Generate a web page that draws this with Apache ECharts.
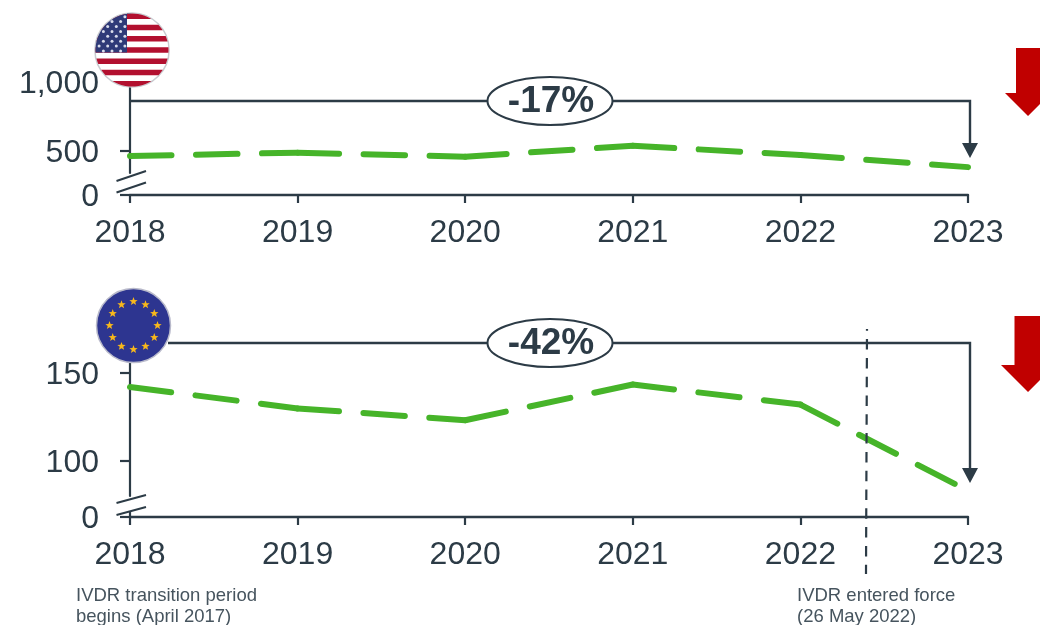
<!DOCTYPE html>
<html><head><meta charset="utf-8">
<style>html,body{margin:0;padding:0;background:#fff}#c{width:1040px;height:625px}</style>
<script src="https://cdn.jsdelivr.net/npm/echarts@6/dist/echarts.min.js"></script>
</head><body><div id="c"></div>
<script>
const years = ['2018','2019','2020','2021','2022','2023'];
const usValues = [464,488,459,538,471,383];
const euValues = [142,129.8,123.1,143.4,132,83];
const usTicks = [0,500,1000];
const euTicks = [0,100,150];
const INK = '#2C3B46', GREEN = '#46B429', RED = '#C00000';
const FONT = '"Liberation Sans", Arial, sans-serif';

const chart = echarts.init(document.getElementById('c'), null, {renderer:'canvas'});

function xAxis(i){ return {
  gridIndex:i, type:'category', data:years, boundaryGap:false,
  axisLine:{onZero:false, lineStyle:{color:INK,width:2.4}},
  axisTick:{alignWithLabel:true,length:8,lineStyle:{color:INK,width:2.2}},
  axisLabel:{color:INK,fontSize:32,fontFamily:FONT,margin:22,interval:0,hideOverlap:false,showMinLabel:true,showMaxLabel:true},
  splitLine:{show:false}
};}
function yAxis(i,max,ticks,brk,fmt){ return {
  gridIndex:i, type:'value', min:0, max,
  breaks:[brk],
  breakArea:{show:false},
  axisLine:{show:true,lineStyle:{color:INK,width:2.2}},
  axisTick:{show:true,length:10,customValues:ticks,lineStyle:{color:INK,width:2.2}},
  axisLabel:{color:INK,fontSize:32,fontFamily:FONT,margin:31,hideOverlap:false,customValues:ticks,formatter:fmt,verticalAlign:'top',lineHeight:5},
  splitLine:{show:false}
};}
const lineStyle={color:GREEN,width:6,type:[41.5,24.5],cap:'round',join:'round'};

/* the reference restarts its dash pattern at each year, so each year-to-year span is its own series */
function spans(name,values,axis){
  return values.slice(0,-1).map((_,i)=>({
    name:name+' '+years[i], type:'line', xAxisIndex:axis, yAxisIndex:axis, symbol:'none', lineStyle, z:5,
    data:values.map((v,j)=>(j===i||j===i+1)?v:null)
  }));
}

/* ---------- flags and annotation helpers ---------- */
function region(cx,cy,r,x0,x1,y0,y1){
  const L=[],R=[]; const st=0.5;
  for(let y=Math.max(y0,cy-r);y<=Math.min(y1,cy+r)+1e-6;y+=st){
    const d=Math.sqrt(Math.max(0,r*r-(y-cy)*(y-cy)));
    L.push([Math.max(cx-d,x0),y]); R.push([Math.min(cx+d,x1),y]);
  }
  return L.concat(R.reverse());
}
const poly=(points,fill,z=20)=>({type:'polygon',z,silent:true,shape:{points},style:{fill}});
function star(cx,cy,R,fill){
  const p=[]; for(let i=0;i<10;i++){const a=-Math.PI/2+i*Math.PI/5,r=i%2?R*0.42:R;p.push([cx+r*Math.cos(a),cy+r*Math.sin(a)]);}
  return poly(p,fill,23);
}
function usFlag(cx,cy,r){
  const o=[{type:'circle',z:19,silent:true,shape:{cx,cy,r:r+0.6},style:{fill:'#fff',stroke:'#C9CBD0',lineWidth:1.5}}];
  const top=cy-r,h=2*r/13;
  for(let i=0;i<13;i+=2) o.push(poly(region(cx,cy,r,-1e4,1e4,top+i*h,top+(i+1)*h),'#B2102F'));
  o.push(poly(region(cx,cy,r,-1e4,cx-5,top,top+7*h),'#2F3A78',21));
  for(let row=0;row<8;row++){
    const n=row%2?4:5;
    for(let k=0;k<n;k++){
      const sx=cx-r+3.6+(row%2?4.3:0)+k*8.6, sy=top+3.2+row*4.9;
      if((sx-cx)**2+(sy-cy)**2<(r-1.5)*(r-1.5)&&sx<cx-5.5)
        o.push({type:'circle',z:22,silent:true,shape:{cx:sx,cy:sy,r:1.5},style:{fill:'#D9DCEB'}});
    }
  }
  return o;
}
function euFlag(cx,cy,r){
  const o=[{type:'circle',z:20,silent:true,shape:{cx,cy,r},style:{fill:'#2D3590',stroke:'#B9BACB',lineWidth:1.5}}];
  for(let i=0;i<12;i++){const a=i*Math.PI/6;o.push(star(cx+24*Math.sin(a),cy-24*Math.cos(a),4.4,'#F8B81B'));}
  return o;
}
function bracket(x0,x1,y,yTip,cx,label){
  return [
    {type:'polyline',z:10,silent:true,shape:{points:[[x0,y],[x1,y],[x1,yTip-8]]},style:{stroke:INK,lineWidth:2.4,fill:null}},
    poly([[x1-8,yTip-15],[x1+8,yTip-15],[x1,yTip]],INK,11),
    {type:'ellipse',z:12,silent:true,shape:{cx,cy:y,rx:62.5,ry:24},style:{fill:'#fff',stroke:INK,lineWidth:2}},
    {type:'text',z:13,silent:true,x:cx+1,y:y+1,style:{text:label,fill:INK,font:'bold 37px '+FONT,align:'center',verticalAlign:'middle'}}
  ];
}
function breakMarks(x,y0,y1,dy){
  return [y0,y1].map(y=>({type:'line',z:15,silent:true,shape:{x1:x-13.5,y1:y+dy,x2:x+16,y2:y-dy},style:{stroke:INK,lineWidth:2}}))
   .concat([{type:'line',z:14,silent:true,shape:{x1:x,y1:y0,x2:x,y2:y1},style:{stroke:'#fff',lineWidth:5}}]);
}
function redArrow(sx0,sx1,top,headY,left,tipX,tipY){
  const right=2*tipX-left;
  return poly([[sx0,top],[sx1,top],[sx1,headY],[right,headY],[tipX,tipY],[left,headY],[sx0,headY]],RED,10);
}
const note=(x,y,t)=>({type:'text',z:10,silent:true,x,y,style:{text:t,fill:'#46545E',font:'18.5px '+FONT,lineHeight:21.5,verticalAlign:'top'}});

chart.setOption({
  animation:false,
  backgroundColor:'#fff',
  grid:[
    {left:130,right:72,top:82,height:113},
    {left:130,right:72,top:343,height:174}
  ],
  xAxis:[xAxis(0),xAxis(1)],
  yAxis:[
    yAxis(0,1000,usTicks,{start:5,end:340,gap:154},v=>{v=+v;return v===1000?'1,000':String(v);}),
    yAxis(1,167,euTicks,{start:5,end:80,gap:6.9},v=>String(+v))
  ],
  series:spans('US',usValues,0).concat(spans('EU',euValues,1)),
  graphic:{elements:[].concat(
    bracket(130,970,101,158,550,'-17%'),
    bracket(168,970,343,483,550,'-42%'),
    breakMarks(130,176,187.5,5),
    breakMarks(130,499,511,4),
    usFlag(132,50,36.5),
    euFlag(133.5,325.5,37),
    [
      redArrow(1016,1040,48,93,1005,1028,116),
      redArrow(1014.5,1041.5,316,365,1001,1028,392),
      {type:'polyline',z:12,silent:true,shape:{points:[[867,329],[866,574]]},style:{stroke:INK,lineWidth:2.2,lineDash:[10.5,8.3],lineDashOffset:8.7,fill:null}},
      note(76,585,'IVDR transition period\nbegins (April 2017)'),
      note(797,585,'IVDR entered force\n(26 May 2022)')
    ]
  )}
});
</script></body></html>
